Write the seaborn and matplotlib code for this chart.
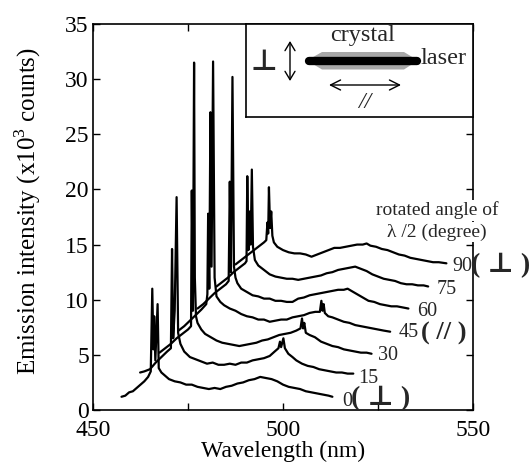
import numpy as np
import pandas as pd
import matplotlib
matplotlib.use("Agg")
import matplotlib.pyplot as plt
import seaborn as sns
from matplotlib.patches import Polygon

sns.set_theme(style="ticks")
plt.rcParams["font.family"] = ["Liberation Serif", "DejaVu Serif", "DejaVu Sans"]
plt.rcParams["mathtext.fontset"] = "custom"
plt.rcParams["mathtext.rm"] = "Liberation Serif"

# ---------------- data (as plotted, waterfall offsets included) ----------------
angles = [0, 15, 30, 45, 60, 75, 90]
angle_labels = ["0", "15", "30", "45", "60", "75", "90"]

wl_0 = [457.5, 458.5, 459.5, 460.5, 461.5, 462.5, 463.5, 464.5, 465.2, 465.6, 465.9, 466.1, 466.4, 467.0, 467.3,
        468.0, 469.0, 470.0, 471.5, 473.0, 474.5, 476.0, 477.5, 479.0, 480.5, 482.0, 483.5, 485.0, 486.5, 488.0,
        489.5, 491.0, 492.5, 494.0, 495.5, 497.0, 498.5, 500.0, 501.5, 503.0, 504.5, 506.0, 507.5, 509.0, 510.5,
        512.0, 513.0]
int_0 = [1.2, 1.3, 1.6, 1.7, 2.0, 2.3, 2.6, 3.0, 3.5, 11.0, 5.5, 8.5, 4.5, 9.6, 3.8,
         3.4, 3.1, 2.8, 2.6, 2.5, 2.3, 2.3, 2.1, 2.0, 1.9, 2.0, 1.9, 2.1, 2.2, 2.4,
         2.5, 2.7, 2.8, 3.0, 2.9, 2.8, 2.6, 2.3, 2.1, 2.0, 1.9, 1.7, 1.6, 1.5, 1.4,
         1.3, 1.2]

wl_15 = [462.4, 463.5, 465.0, 466.5, 468.0, 469.5, 470.5, 470.8, 471.1, 471.5, 472.0, 472.4, 473.0, 474.0, 475.5,
         477.0, 478.5, 480.0, 481.5, 483.0, 484.5, 486.0, 487.5, 489.0, 490.5, 492.0, 493.5, 495.0, 496.5, 497.8,
         498.8, 499.2, 499.5, 500.1, 500.5, 501.4, 502.5, 503.5, 505.0, 506.5, 508.0, 509.5, 511.0, 512.5, 514.0,
         515.5, 517.0, 518.5]
int_15 = [3.4, 3.5, 3.7, 4.3, 4.8, 5.3, 5.6, 14.6, 6.5, 9.0, 19.3, 7.0, 6.0, 5.3, 4.8,
          4.6, 4.4, 4.2, 4.3, 4.1, 4.1, 4.2, 4.1, 4.3, 4.3, 4.5, 4.6, 4.7, 4.9, 5.3,
          5.6, 6.2, 5.7, 6.5, 5.6, 5.1, 4.8, 4.5, 4.2, 4.0, 3.9, 3.7, 3.6, 3.5, 3.4,
          3.4, 3.3, 3.3]

wl_30 = [467.5, 469.0, 470.5, 472.0, 473.5, 475.0, 475.8, 476.0, 476.3, 476.6, 476.8, 477.1, 477.5, 478.5, 479.5,
         481.0, 482.5, 484.0, 485.5, 487.0, 488.5, 490.0, 491.5, 493.0, 494.5, 496.0, 497.5, 499.0, 500.5, 502.0,
         503.5, 504.6, 505.0, 505.3, 505.6, 506.0, 507.0, 508.4, 510.0, 511.5, 513.0, 514.5, 516.0, 517.5, 519.0,
         520.5, 522.0, 523.3]
int_30 = [5.2, 5.6, 6.0, 6.5, 6.9, 7.3, 7.6, 19.9, 9.0, 31.5, 12.0, 8.5, 7.9, 7.3, 6.9,
          6.6, 6.3, 6.1, 6.0, 5.9, 5.8, 5.9, 6.0, 6.1, 6.3, 6.4, 6.6, 6.8, 6.9, 7.0,
          7.2, 7.4, 8.3, 7.4, 7.9, 7.0, 6.8, 6.6, 6.2, 6.0, 5.8, 5.7, 5.5, 5.4, 5.3,
          5.2, 5.2, 5.1]

wl_45 = [472.5, 474.0, 475.5, 477.0, 478.5, 479.8, 480.1, 480.3, 480.6, 480.9, 481.2, 481.6, 482.0, 482.5, 483.5,
         484.5, 486.0, 487.5, 489.0, 490.5, 492.0, 493.5, 495.0, 496.5, 498.0, 499.5, 501.0, 502.5, 504.0, 505.5,
         507.0, 508.5, 509.7, 510.1, 510.4, 510.7, 511.0, 511.9, 513.0, 514.5, 516.0, 517.5, 519.0, 520.5, 522.0,
         523.5, 525.0, 526.5, 528.2]
int_45 = [7.2, 7.6, 8.1, 8.6, 9.1, 9.6, 10.5, 17.8, 11.0, 27.0, 13.0, 31.6, 12.0, 10.3, 9.8,
          9.5, 9.2, 9.0, 8.7, 8.5, 8.4, 8.2, 8.2, 8.0, 8.1, 8.2, 8.2, 8.4, 8.5, 8.6,
          8.8, 8.9, 8.9, 9.9, 9.0, 9.6, 8.8, 8.5, 8.4, 8.2, 8.0, 7.9, 7.7, 7.6, 7.5,
          7.4, 7.3, 7.2, 7.1]

wl_60 = [477.5, 479.0, 480.5, 482.0, 483.5, 485.0, 485.7, 486.0, 486.3, 486.7, 487.1, 487.5, 488.0, 489.0, 490.5,
         492.0, 493.5, 495.0, 496.5, 498.0, 499.5, 501.0, 502.5, 504.0, 505.5, 507.0, 508.5, 510.0, 511.5, 513.0,
         514.5, 516.0, 517.0, 518.0, 519.5, 521.0, 522.5, 524.0, 525.5, 527.0, 528.5, 530.0, 531.5, 533.0]
int_60 = [9.2, 9.6, 10.1, 10.6, 11.0, 11.4, 11.7, 20.7, 12.5, 30.2, 13.0, 12.0, 11.5, 11.0, 10.7,
          10.4, 10.3, 10.1, 10.1, 9.9, 9.9, 9.8, 9.8, 10.1, 10.2, 10.4, 10.5, 10.6, 10.7, 10.8,
          10.9, 10.9, 11.0, 10.8, 10.5, 10.2, 9.9, 9.8, 9.6, 9.5, 9.4, 9.4, 9.3, 9.2]

wl_75 = [482.5, 484.0, 485.5, 487.0, 488.5, 490.0, 490.4, 490.6, 490.9, 491.2, 491.5, 491.8, 492.1, 492.6, 493.5,
         495.0, 496.5, 498.0, 499.5, 501.0, 502.5, 504.0, 505.5, 507.0, 508.5, 510.0, 511.5, 513.0, 514.5, 516.0,
         517.5, 519.0, 520.5, 522.0, 523.5, 525.0, 526.5, 528.0, 529.5, 531.0, 532.5, 534.0, 535.5, 537.0, 538.2]
int_75 = [11.2, 11.6, 12.0, 12.5, 12.9, 13.3, 13.5, 21.2, 14.5, 18.0, 15.0, 21.8, 14.8, 13.6, 13.1,
          12.7, 12.3, 12.1, 12.0, 11.9, 11.9, 11.8, 11.9, 12.0, 12.1, 12.2, 12.4, 12.5, 12.7, 12.8,
          12.9, 13.0, 12.8, 12.6, 12.3, 12.1, 11.9, 11.8, 11.7, 11.5, 11.4, 11.4, 11.3, 11.3, 11.2]

wl_90 = [487.5, 489.0, 490.5, 492.0, 493.5, 495.0, 495.6, 495.9, 496.1, 496.3, 496.6, 496.9, 497.2, 497.6, 498.5,
         500.0, 501.5, 503.0, 504.5, 506.0, 507.5, 509.0, 510.5, 512.0, 513.5, 515.0, 516.5, 518.0, 519.5, 521.0,
         522.0, 523.0, 524.5, 526.0, 527.5, 529.0, 530.5, 532.0, 533.5, 535.0, 536.5, 538.0, 539.5, 541.0, 543.0]
int_90 = [13.2, 13.6, 14.0, 14.4, 14.8, 15.2, 15.4, 17.0, 16.0, 20.2, 16.5, 18.0, 15.8, 15.2, 14.8,
          14.5, 14.3, 14.2, 14.2, 14.1, 13.9, 14.1, 14.3, 14.5, 14.7, 14.7, 14.8, 14.9, 15.0, 15.0,
          15.1, 14.9, 14.8, 14.6, 14.5, 14.3, 14.1, 14.0, 13.8, 13.7, 13.6, 13.5, 13.4, 13.4, 13.3]

wavelengths = [wl_0, wl_15, wl_30, wl_45, wl_60, wl_75, wl_90]
intensities = [int_0, int_15, int_30, int_45, int_60, int_75, int_90]

x_ticks = [450, 500, 550]
y_ticks = [0, 5, 10, 15, 20, 25, 30, 35]

df = pd.concat(
    [pd.DataFrame({"wavelength": w, "intensity": i, "angle": a})
     for a, w, i in zip(angles, wavelengths, intensities)],
    ignore_index=True)

# ---------------- figure ----------------
W, H = 532, 467
fig = plt.figure(figsize=(W / 100, H / 100), dpi=100)
fig.patch.set_facecolor("white")
ax = fig.add_axes([93 / W, 1 - 410 / H, 380 / W, 386 / H])
ax.set_facecolor("white")

sns.lineplot(data=df, x="wavelength", y="intensity", units="angle", estimator=None,
             sort=False, color="black", lw=1.6, ax=ax, legend=False)

ax.set_xlim(450, 550)
ax.set_ylim(0, 35)
ax.set_xticks(x_ticks)
ax.set_xticks([475, 525], minor=True)
ax.set_yticks(y_ticks)
ax.set_xticklabels([str(t) for t in x_ticks])
ax.set_yticklabels([str(t) for t in y_ticks])
for s in ax.spines.values():
    s.set_linewidth(1.2)
    s.set_color("black")
    s.set_visible(True)
ax.tick_params(which="both", direction="in", top=True, right=True, length=5, width=1.0,
               color="black", labelsize=17, labelcolor="black")
ax.tick_params(axis="x", pad=7)
ax.tick_params(axis="y", pad=3)
ax.grid(False)

ax.set_xlabel("Wavelength (nm)", fontsize=17, color="black")
ax.set_ylabel("Emission intensity (x10$^{\\mathrm{3}}$ counts)", fontsize=18, color="black")
ax.xaxis.set_label_coords(0.5, -0.080)
ax.yaxis.set_label_coords(-0.132, 0.515)

# angle labels
small = 14.5
big = 20
ax.text(544.6, 13.0, "90", fontsize=small, ha="left", va="center")
ax.text(549.6, 13.1, "( \u22a5 )", fontsize=big, ha="left", va="center", fontweight="bold")
ax.text(540.5, 10.9, "75", fontsize=small, ha="left", va="center")
ax.text(535.3, 8.9, "60", fontsize=small, ha="left", va="center")
ax.text(530.3, 7.0, "45", fontsize=small, ha="left", va="center")
ax.text(536.4, 6.9, "( // )", fontsize=big - 1, ha="left", va="center", fontweight="bold")
ax.text(525.0, 4.9, "30", fontsize=small, ha="left", va="center")
ax.text(519.7, 2.9, "15", fontsize=small, ha="left", va="center")
ax.text(515.6, 0.75, "0", fontsize=small, ha="left", va="center")
ax.text(517.9, 1.0, "( \u22a5 )", fontsize=big, ha="left", va="center", fontweight="bold")

ax.text(540.5, 18.1, "rotated angle of", fontsize=14, ha="center", va="center",
        bbox=dict(facecolor="white", edgecolor="none", pad=1))
ax.text(540.5, 16.1, "\u03bb /2 (degree)", fontsize=14, ha="center", va="center",
        bbox=dict(facecolor="white", edgecolor="none", pad=1))

# ---------------- inset (pixel coordinates) ----------------
ins = fig.add_axes([246 / W, 1 - 117 / H, 227 / W, 93 / H])
ins.set_xlim(246, 473)
ins.set_ylim(117, 24)
ins.set_xticks([])
ins.set_yticks([])
ins.set_facecolor("white")
for s in ins.spines.values():
    s.set_linewidth(1.2)
    s.set_color("black")
    s.set_visible(True)

ins.add_patch(Polygon([(307, 60.5), (322, 52), (404, 52), (418, 60.5), (404, 69.5), (322, 69.5)],
                      closed=True, facecolor="#a8a8a8", edgecolor="none"))
ins.plot([309, 417], [60.8, 60.8], color="black", lw=6, solid_capstyle="round")
ins.text(362.5, 36, "crystal", fontsize=17.5, ha="center", va="center")
ins.text(421, 58.5, "laser", fontsize=17.5, ha="left", va="center")
ins.text(263.5, 62, "\u22a5", fontsize=21, ha="center", va="center", family=["DejaVu Sans"],
         fontweight="bold")
ins.annotate("", xy=(290, 41), xytext=(290, 81),
             arrowprops=dict(arrowstyle="<->,head_length=0.5,head_width=0.3", lw=1.0, color="black",
                             shrinkA=0, shrinkB=0))
ins.annotate("", xy=(329, 85), xytext=(401, 85),
             arrowprops=dict(arrowstyle="<->,head_length=0.6,head_width=0.3", lw=1.0, color="black",
                             shrinkA=0, shrinkB=0))
ins.text(365, 102, "//", fontsize=17, ha="center", va="center", style="italic")

fig.savefig("out.png", dpi=100, facecolor="white")
